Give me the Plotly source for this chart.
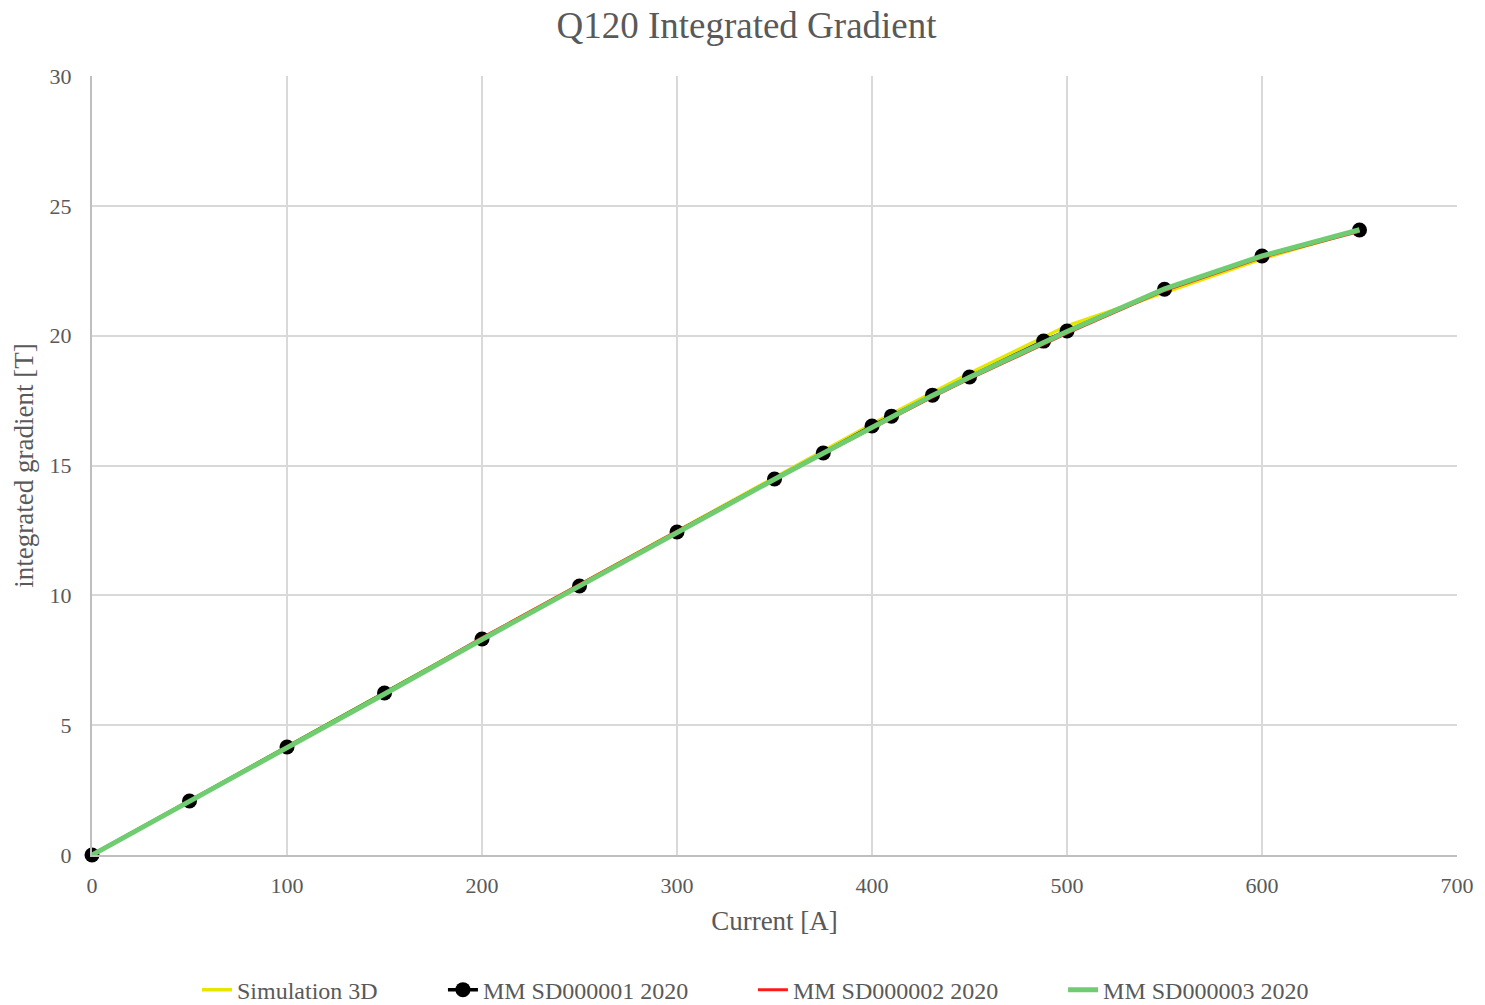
import plotly.graph_objects as go

# Current [A] and integrated gradient [T]
current = [0, 50, 100, 150, 200, 250, 300, 350, 375, 400, 410, 431, 450, 488, 500, 550, 600, 650]
sim_current = [0, 50, 100, 150, 200, 250, 300, 350, 400, 450, 500, 550, 600, 650]
sim_3d = [0, 2.09, 4.18, 6.26, 8.34, 10.41, 12.48, 14.54, 16.6, 18.55, 20.38, 21.66, 22.96, 24.07]
mm_sd1 = [0, 2.08, 4.16, 6.24, 8.32, 10.36, 12.44, 14.48, 15.48, 16.52, 16.90, 17.71, 18.41, 19.79, 20.18, 21.79, 23.07, 24.07]
mm_sd2 = [0, 2.06, 4.13, 6.21, 8.36, 10.42, 12.47, 14.48, 15.46, 16.44, 16.84, 17.64, 18.34, 19.70, 20.10, 21.74, 23.02, 24.02]
mm_sd3 = [0, 2.06, 4.13, 6.2, 8.3, 10.37, 12.43, 14.47, 15.47, 16.48, 16.88, 17.70, 18.40, 19.76, 20.16, 21.80, 23.07, 24.08]

font_family = "Liberation Serif"
grey = "#595959"

fig = go.Figure()
fig.add_trace(go.Scatter(x=sim_current, y=sim_3d, mode="lines", name="Simulation 3D",
                         line=dict(color="#e6e600", width=3.5), legend="legend"))
fig.add_trace(go.Scatter(x=current, y=mm_sd1, mode="lines+markers", name="MM SD000001 2020",
                         line=dict(color="black", width=3.5), cliponaxis=False,
                         marker=dict(color="black", size=15), legend="legend2"))
fig.add_trace(go.Scatter(x=current, y=mm_sd2, mode="lines", name="MM SD000002 2020",
                         line=dict(color="#ff1a1a", width=3), legend="legend3"))
fig.add_trace(go.Scatter(x=current, y=mm_sd3, mode="lines", name="MM SD000003 2020",
                         line=dict(color="#70cc70", width=5), legend="legend4"))

axis_common = dict(
    showgrid=True, gridcolor="#d9d9d9", gridwidth=2, automargin=False,
    zeroline=False, showline=True, linecolor="#bfbfbf", linewidth=2, mirror=False,
    ticks="", tickfont=dict(family=font_family, size=22, color=grey),
)

# one legend box per entry so the spacing can follow the original
legend_style = dict(orientation="h", xanchor="left", yref="container", y=0.015, yanchor="middle",
                    font=dict(family=font_family, size=24, color=grey), bgcolor="rgba(0,0,0,0)")

# page body has an 8px default margin, so the figure is shrunk by that much
fig.update_layout(
    width=1477, height=997,
    paper_bgcolor="white", plot_bgcolor="white",
    margin=dict(l=84, r=28, t=68, b=150),
    title=dict(text="Q120 Integrated Gradient", x=0.5, xanchor="center", y=0.983, yanchor="middle",
               font=dict(family=font_family, size=37, color=grey)),
    font=dict(family=font_family, color=grey),
    showlegend=True,
    legend=dict(x=0.0769, **legend_style),
    legend2=dict(x=0.2571, **legend_style),
    legend3=dict(x=0.4842, **legend_style),
    legend4=dict(x=0.7114, **legend_style),
)
fig.update_xaxes(range=[0, 700], dtick=100, ticklabelstandoff=10,
                 title=dict(text="Current [A]", standoff=14,
                            font=dict(family=font_family, size=27, color=grey)), **axis_common)
fig.update_yaxes(range=[0, 30], dtick=5, ticklabelstandoff=14,
                 title=dict(text="integrated gradient [T]", standoff=8,
                            font=dict(family=font_family, size=27, color=grey)), **axis_common)

fig.write_html("out.html")
